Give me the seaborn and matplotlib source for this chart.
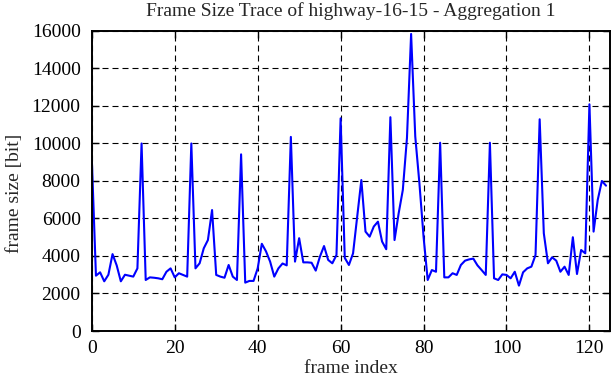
import matplotlib
matplotlib.use('Agg')
import matplotlib.pyplot as plt
import seaborn as sns
import numpy as np
import pandas as pd

# frame sizes in bit (frames 0..124)
frame_size = [
    9200, 2950, 3130, 2650, 3000, 4100, 3500, 2650, 3000, 2950,
    2900, 3340, 10000, 2720, 2860, 2840, 2810, 2760, 3160, 3340,
    2860, 3080, 2990, 2900, 10000, 3340, 3610, 4410, 4850, 6450,
    2990, 2900, 2840, 3520, 2900, 2720, 9420, 2580, 2670, 2670,
    3340, 4650, 4250, 3700, 2900, 3340, 3600, 3500, 10350, 3700,
    4950, 3660, 3660, 3640, 3220, 3960, 4530, 3790, 3610, 4050,
    11340, 3900, 3520, 4140, 6100, 8050, 5300, 5030, 5570, 5830,
    4770, 4360, 11400, 4850, 6280, 7520, 10300, 15840, 10370, 7880,
    5030, 2720, 3250, 3160, 10040, 2860, 2860, 3080, 2990, 3520,
    3750, 3820, 3860, 3500, 3250, 2990, 10040, 2810, 2720, 3020,
    2990, 2810, 3160, 2420, 3130, 3340, 3430, 4050, 11290, 5210,
    3610, 3930, 3750, 3160, 3430, 2990, 5000, 3040, 4320, 4140,
    12090, 5300, 6990, 8000, 7750,
]
frame_index = list(range(len(frame_size)))
x_ticks = [0, 20, 40, 60, 80, 100, 120]
y_ticks = [0, 2000, 4000, 6000, 8000, 10000, 12000, 14000, 16000]

df = pd.DataFrame({"frame index": frame_index, "frame size [bit]": frame_size})

sns.set_style("ticks")
plt.rcParams['font.family'] = ['Liberation Serif', 'DejaVu Serif']
plt.rcParams['font.size'] = 14

fig = plt.figure(figsize=(6.12, 3.82), dpi=100)
ax = fig.add_axes([0.150, 0.1335, 0.847, 0.7855])

sns.lineplot(data=df, x="frame index", y="frame size [bit]", color="#0000ff",
             linewidth=1.5, ax=ax)

ax.set_xlim(0, 125)
ax.set_ylim(0, 16000)
ax.set_xticks(x_ticks)
ax.set_yticks(y_ticks)
ax.set_axisbelow(True)
ax.grid(True, color="black", linestyle=(0, (5.4, 3.6)), linewidth=0.8)
ax.tick_params(direction="in", length=5, width=1, top=True, right=True,
               labelsize=14, colors="black")
ax.tick_params(axis="x", pad=6.5)
ax.tick_params(axis="y", pad=8)
for s in ax.spines.values():
    s.set_color("black")
    s.set_linewidth(1.4)
ax.set_xlabel("frame index", fontsize=14, labelpad=2)
ax.set_ylabel("frame size [bit]", fontsize=14, labelpad=6.6, y=0.46)
ax.set_title("Frame Size Trace of highway-16-15 - Aggregation 1", fontsize=14, pad=11)

fig.savefig("out.png", dpi=100)
plt.close(fig)
